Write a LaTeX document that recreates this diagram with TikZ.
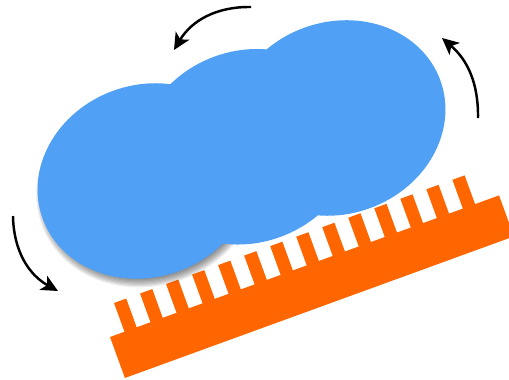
\documentclass[tikz,border=0pt]{standalone}
\usetikzlibrary{arrows.meta}
\definecolor{blobblue}{HTML}{50A0F5}
\definecolor{rackorange}{HTML}{FF6600}

\begin{document}
\begin{tikzpicture}[x=0.02cm, y=0.02cm,
		turn/.style={black, line width=1.4pt, -{Stealth[length=9.5pt,width=9pt,inset=2.5pt]}}]
		\useasboundingbox (0,0) rectangle (509,-379);
		\clip (0,0) rectangle (509,-379);
		% toothed rack
		\begin{scope}[shift={(110,-337)}, rotate=20]
			\fill [rackorange] (0,0) rectangle (414,-43.6);
			\foreach \i in {0,...,13}
				\fill [rackorange] ({15.4+27.7*\i},-0.5) rectangle ++(13,31.1);
		\end{scope}
		% blob: soft shadow under the left lobe, then three ellipses
		\begin{scope}[shift={(146,-181)}, rotate=20]
			\foreach \r in {1,...,8}
				\fill [black, opacity=0.07] (0.5,-5.5) ellipse ({104+1.2*\r} and {90+1.2*\r});
			\fill [blobblue] (0,0) ellipse (110 and 96)
				(107,-2.5) ellipse (110 and 96)
				(201,-6.1) ellipse (110 and 96);
		\end{scope}
		% rotation arrows
		\coordinate (topFrom) at (251,-7);
		\coordinate (topTo) at (174,-50);
		\coordinate (rightFrom) at (478,-118);
		\coordinate (rightTo) at (442,-38);
		\coordinate (leftFrom) at (13,-216);
		\coordinate (leftTo) at (58,-291);
		\draw [turn] (topFrom) to[bend right=30] (topTo);
		\draw [turn] (rightFrom) to[bend right=25] (rightTo);
		\draw [turn] (leftFrom) to[bend right=30] (leftTo);
\end{tikzpicture}
\end{document}
